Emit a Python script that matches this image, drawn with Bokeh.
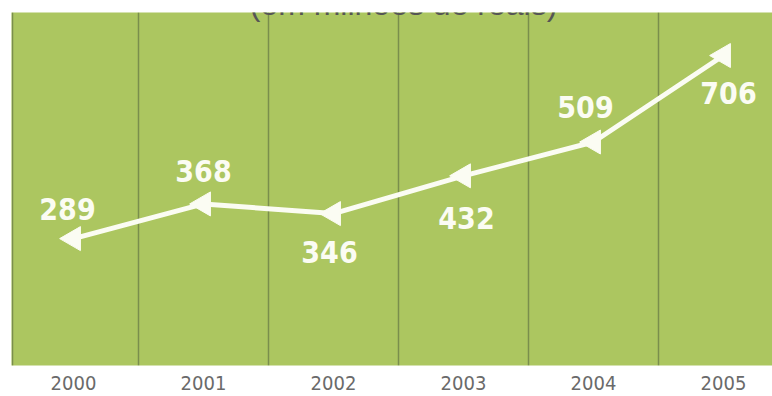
import math
from bokeh.plotting import figure
from bokeh.models import Range1d, FixedTicker, Label, ColumnDataSource
from bokeh.core.properties import value
from bokeh.embed import file_html
from bokeh.resources import INLINE

# ---- data ----
years = [2000, 2001, 2002, 2003, 2004, 2005]
revenue = [289, 368, 346, 432, 509, 706]
tick_labels = ["2000", "2001", "2002", "2003", "2004", "2005"]
title_text = "(em milhões de reais)"

# ---- label placement (style, screen pixels) ----
label_dx = [-6, 0, -4, 3, -8, 5]
label_dy = [-30, -33, 38, 42, -35, 37]

GREEN = "#acc660"
DIVIDER = "#7a8e4c"
WHITE = "#fbfcf3"
NARROW = "DejaVu Sans Condensed"

p = figure(
    width=772, height=396,
    output_backend="svg", toolbar_location=None,
    x_range=Range1d(1999.523, 2005.377),
    y_range=Range1d(0, 804),
    min_border_left=11, min_border_right=0,
    min_border_top=12, min_border_bottom=31,
)
p.background_fill_color = GREEN
p.border_fill_color = "white"
p.outline_line_color = None

# vertical column dividers
p.ygrid.visible = False
p.xgrid.ticker = FixedTicker(ticks=[y + 0.5 for y in years[:-1]] + [1999.53])
p.xgrid.grid_line_color = DIVIDER
p.xgrid.grid_line_width = 1.5

# axes
p.yaxis.visible = False
p.xaxis.ticker = FixedTicker(ticks=years)
p.xaxis.major_label_overrides = {y: t for y, t in zip(years, tick_labels)}
p.xaxis.axis_line_color = None
p.xaxis.major_tick_line_color = None
p.xaxis.minor_tick_line_color = None
p.xaxis.major_label_standoff = 4
p.xaxis.major_label_text_font = NARROW
p.xaxis.major_label_text_font_size = "20px"
p.xaxis.major_label_text_color = "#6a6a6a"

src = ColumnDataSource(dict(
    x=years, y=revenue, txt=[str(v) for v in revenue],
    dx=label_dx, dy=label_dy,
))

p.line("x", "y", source=src, line_width=5, line_color=WHITE)
p.scatter("x", "y", source=src, marker="triangle", size=24, angle=math.pi / 2,
          fill_color=WHITE, line_color=WHITE)
p.text("x", "y", text="txt", source=src, x_offset="dx", y_offset="dy",
       text_align="center", text_baseline="middle",
       text_font=value(NARROW), text_font_style="bold",
       text_font_size="30px", text_color=WHITE)

# title, partly cut by the top edge as in the reference (screen units are frame-relative)
p.add_layout(Label(x=392, y=362, x_units="screen", y_units="screen",
                   text=title_text, text_align="center",
                   text_baseline="alphabetic",
                   text_font="Liberation Sans", text_font_size="32px",
                   text_color="#555555"))

open("out.html", "w").write(file_html(p, INLINE))
